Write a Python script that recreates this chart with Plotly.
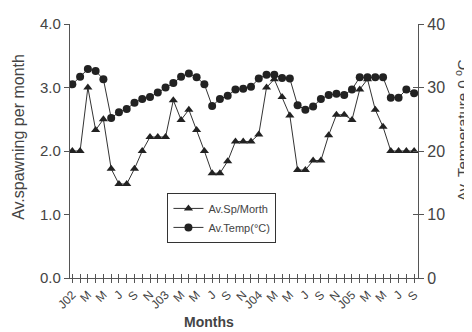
import plotly.graph_objects as go

months = list(range(45))
month_labels = ["J02", "", "M", "", "M", "", "J", "", "S", "", "N", "",
                "J03", "", "M", "", "M", "", "J", "", "S", "", "N", "",
                "J04", "", "M", "", "M", "", "J", "", "S", "", "N", "",
                "J05", "", "M", "", "M", "", "J", "", "S"]
spawning = [2.0, 2.0, 3.0, 2.33, 2.5, 1.72, 1.48, 1.48, 1.72, 2.0, 2.22, 2.22,
            2.22, 2.8, 2.49, 2.65, 2.33, 2.0, 1.65, 1.65, 1.84, 2.15, 2.15, 2.15,
            2.26, 3.0, 3.13, 2.85, 2.56, 1.70, 1.70, 1.85, 1.85, 2.25, 2.57, 2.57,
            2.49, 2.97, 3.13, 2.65, 2.38, 2.0, 2.0, 2.0, 2.0]
temperature = [30.5, 31.7, 32.9, 32.6, 31.3, 25.2, 26.1, 26.6, 27.6, 28.2, 28.5, 29.2,
               30.0, 30.7, 31.7, 32.2, 31.6, 30.5, 27.1, 28.2, 28.7, 29.7, 29.8, 30.1,
               31.4, 32.0, 32.0, 31.5, 31.4, 27.2, 26.5, 27.0, 28.2, 28.8, 29.0, 28.8,
               29.7, 31.6, 31.6, 31.6, 31.6, 28.4, 28.4, 29.7, 29.1]
left_ticks = [0, 1, 2, 3, 4]
left_ticktext = ["0.0", "1.0", "2.0", "3.0", "4.0"]
right_ticks = [0, 10, 20, 30, 40]

LINE = "#333333"
AX = "#555555"
TXT = "#444444"
FONT = "Liberation Sans, Arial, sans-serif"

fig = go.Figure()
fig.add_trace(go.Scatter(x=months, y=spawning, name="Av.Sp/Morth", mode="lines+markers",
                         line=dict(color=LINE, width=1),
                         marker=dict(symbol="triangle-up", size=8, color="#222222"),
                         yaxis="y"))
fig.add_trace(go.Scatter(x=months, y=temperature, name="Av.Temp(°C)", mode="lines+markers",
                         line=dict(color=LINE, width=1),
                         marker=dict(symbol="circle", size=8, color="#222222"),
                         yaxis="y2"))

xr = [-0.3, 44.5]
fig.update_layout(
    width=464, height=324,
    margin=dict(l=62, r=54, t=16, b=54, autoexpand=False),
    paper_bgcolor="white", plot_bgcolor="white",
    font=dict(family=FONT, color=TXT),
    showlegend=True,
    legend=dict(x=0.28, y=0.335, xanchor="left", yanchor="top",
                bordercolor="#333333", borderwidth=1, bgcolor="white",
                font=dict(size=11, color=TXT), itemwidth=30,
                tracegroupgap=0),
    xaxis=dict(range=xr, tickmode="array", tickvals=months, ticktext=month_labels,
               ticks="outside", ticklen=4, tickcolor=AX, tickwidth=1,
               tickangle=-45, tickfont=dict(size=12, color=TXT),
               showline=True, linecolor=AX, linewidth=1.2, showgrid=False,
               zeroline=False, anchor="y", automargin=False),
    xaxis2=dict(range=xr, overlaying="x", side="bottom", anchor="y",
                tickmode="array", tickvals=months, ticks="inside", ticklen=4,
                tickcolor=AX, showticklabels=False, showline=False,
                showgrid=False, zeroline=False, automargin=False),
    yaxis=dict(range=[0, 4], tickmode="array", tickvals=left_ticks, ticktext=left_ticktext,
               ticks="outside", ticklen=5, tickcolor=AX,
               tickfont=dict(size=15, color=TXT), automargin=False,
               showline=True, linecolor=AX, linewidth=1.2, showgrid=False, zeroline=False),
    yaxis2=dict(range=[0, 40], overlaying="y", side="right", anchor="x",
                tickmode="array", tickvals=right_ticks,
                ticks="outside", ticklen=5, tickcolor=AX, automargin=False,
                tickfont=dict(size=16, color=TXT),
                showline=True, linecolor=AX, linewidth=1.2, showgrid=False, zeroline=False),
    yaxis3=dict(range=[0, 40], overlaying="y", side="right", anchor="x",
                tickmode="array", tickvals=right_ticks, automargin=False,
                ticks="inside", ticklen=5, tickcolor=AX, showticklabels=False,
                showline=False, showgrid=False, zeroline=False),
    annotations=[
        dict(text="<b>Months</b>", xref="paper", yref="paper", x=0.40, y=-0.175,
             xanchor="center", yanchor="middle", showarrow=False,
             font=dict(size=14, color=TXT, family=FONT)),
        dict(text="Av.spawning per month", xref="paper", yref="paper", x=-0.15, y=0.555,
             xanchor="center", yanchor="middle", showarrow=False, textangle=-90,
             font=dict(size=16, color=TXT)),
        dict(text="Av. Temperature 0 <sup>o</sup>C", xref="paper", yref="paper", x=1.125, y=0.58,
             xanchor="center", yanchor="middle", showarrow=False, textangle=-90,
             font=dict(size=15, color=TXT)),
    ],
)

# invisible traces to activate overlay axes
fig.add_trace(go.Scatter(x=[None], y=[None], xaxis="x2", yaxis="y", showlegend=False, hoverinfo="skip"))
fig.add_trace(go.Scatter(x=[None], y=[None], xaxis="x", yaxis="y3", showlegend=False, hoverinfo="skip"))

fig.write_html("out.html")
